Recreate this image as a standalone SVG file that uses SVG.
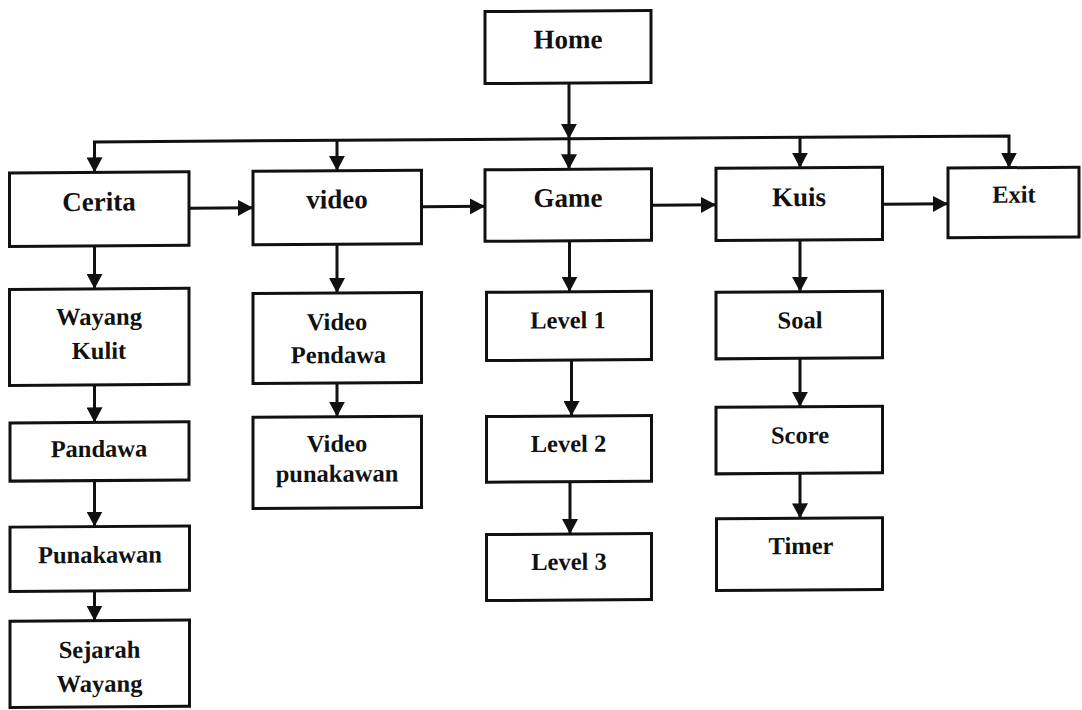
<svg xmlns="http://www.w3.org/2000/svg" width="1082" height="710" viewBox="0 0 1082 710">
  <style>
    .box { fill: #ffffff; stroke: #111111; stroke-width: 3; }
    .wire { fill: none; stroke: #111111; stroke-width: 3; }
    .lbl { font-family: "Liberation Serif", serif; font-weight: bold; fill: #111111; text-anchor: middle; }
    .big { font-size: 27px; }
    .sm { font-size: 24.5px; }
  </style>
  <defs>
    <marker id="head" markerUnits="userSpaceOnUse" markerWidth="16" markerHeight="16" refX="15" refY="8" orient="auto">
      <path d="M0,0 L15,8 L0,16 Z" fill="#111111"/>
    </marker>
  </defs>
  <rect x="0" y="0" width="1082" height="710" fill="#ffffff"/>
  <!-- slight page tilt of the printed chart -->
  <g transform="translate(0,3.49) skewY(-0.37)">
    <g id="connectors">
      <path class="wire" d="M569,83.2 V139" marker-end="url(#head)"/>
      <path class="wire" d="M569,139 H94.5 V169.5" marker-end="url(#head)"/>
      <path class="wire" d="M569,139 H1009 V170.7" marker-end="url(#head)"/>
      <path class="wire" d="M337,139 V169.5" marker-end="url(#head)"/>
      <path class="wire" d="M569,139 V169.5" marker-end="url(#head)"/>
      <path class="wire" d="M800,139 V169.4" marker-end="url(#head)"/>
      <!-- main row -->
      <path class="wire" d="M189,206 H253" marker-end="url(#head)"/>
      <path class="wire" d="M421.5,206 H485" marker-end="url(#head)"/>
      <path class="wire" d="M651.5,206 H716" marker-end="url(#head)"/>
      <path class="wire" d="M882.5,206.5 H948" marker-end="url(#head)"/>
      <!-- Cerita column -->
      <path class="wire" d="M94.5,243 V286" marker-end="url(#head)"/>
      <path class="wire" d="M94.5,382 V419.5" marker-end="url(#head)"/>
      <path class="wire" d="M94.5,477.7 V523.7" marker-end="url(#head)"/>
      <path class="wire" d="M94.5,588 V617.8" marker-end="url(#head)"/>
      <!-- video column -->
      <path class="wire" d="M337,243 V291.7" marker-end="url(#head)"/>
      <path class="wire" d="M337,381.7 V415.4" marker-end="url(#head)"/>
      <!-- Game column -->
      <path class="wire" d="M569.5,241 V292" marker-end="url(#head)"/>
      <path class="wire" d="M571.5,360.2 V416.2" marker-end="url(#head)"/>
      <path class="wire" d="M570,481.9 V534.2" marker-end="url(#head)"/>
      <!-- Kuis column -->
      <path class="wire" d="M800,241.7 V293.4" marker-end="url(#head)"/>
      <path class="wire" d="M800,360 V408.4" marker-end="url(#head)"/>
      <path class="wire" d="M800,475 V520" marker-end="url(#head)"/>
    </g>

    <g id="home">
      <rect class="box" x="485" y="11.2" width="166" height="72"/>
      <text class="lbl big" x="568" y="48.5">Home</text>
    </g>
    <g id="cerita">
      <rect class="box" x="9.5" y="169.5" width="179.5" height="73.5"/>
      <text class="lbl big" x="99" y="207.8">Cerita</text>
    </g>
    <g id="video">
      <rect class="box" x="253" y="169.5" width="168.5" height="73.5"/>
      <text class="lbl big" x="337" y="207">video</text>
    </g>
    <g id="game">
      <rect class="box" x="485" y="169.5" width="166.5" height="71.5"/>
      <text class="lbl big" x="568" y="207">Game</text>
    </g>
    <g id="kuis">
      <rect class="box" x="716" y="169.4" width="166.5" height="72.3"/>
      <text class="lbl big" x="799" y="207.7">Kuis</text>
    </g>
    <g id="exit">
      <rect class="box" x="948" y="170.7" width="131" height="69.7"/>
      <text class="lbl sm" x="1014" y="205.7">Exit</text>
    </g>

    <g id="wayang-kulit">
      <rect class="box" x="9.5" y="286" width="179.5" height="96"/>
      <text class="lbl sm" x="99" y="322">Wayang</text>
      <text class="lbl sm" x="99" y="356">Kulit</text>
    </g>
    <g id="pandawa">
      <rect class="box" x="10" y="419.5" width="179" height="58.2"/>
      <text class="lbl sm" x="99" y="454">Pandawa</text>
    </g>
    <g id="punakawan">
      <rect class="box" x="10" y="523.7" width="179.5" height="64.3"/>
      <text class="lbl sm" x="100" y="560">Punakawan</text>
    </g>
    <g id="sejarah-wayang">
      <rect class="box" x="10" y="617.8" width="179.5" height="86.2"/>
      <text class="lbl sm" x="99.5" y="655">Sejarah</text>
      <text class="lbl sm" x="99.5" y="689">Wayang</text>
    </g>

    <g id="video-pendawa">
      <rect class="box" x="253" y="291.7" width="168.5" height="90"/>
      <text class="lbl sm" x="337" y="328.7">Video</text>
      <text class="lbl sm" x="338.5" y="361.7">Pendawa</text>
    </g>
    <g id="video-punakawan">
      <rect class="box" x="253" y="415.4" width="168.5" height="91.3"/>
      <text class="lbl sm" x="337" y="450.4">Video</text>
      <text class="lbl sm" x="337" y="480.4">punakawan</text>
    </g>

    <g id="level-1">
      <rect class="box" x="486.5" y="292" width="165" height="68.2"/>
      <text class="lbl sm" x="568" y="328.5">Level 1</text>
    </g>
    <g id="level-2">
      <rect class="box" x="486.5" y="416.2" width="165" height="65.7"/>
      <text class="lbl sm" x="568.5" y="452">Level 2</text>
    </g>
    <g id="level-3">
      <rect class="box" x="486.5" y="534.2" width="165" height="66"/>
      <text class="lbl sm" x="569" y="570">Level 3</text>
    </g>

    <g id="soal">
      <rect class="box" x="716" y="293.4" width="166.5" height="66.6"/>
      <text class="lbl sm" x="800" y="330">Soal</text>
    </g>
    <g id="score">
      <rect class="box" x="716" y="408.4" width="166.5" height="66.6"/>
      <text class="lbl sm" x="800" y="445">Score</text>
    </g>
    <g id="timer">
      <rect class="box" x="716.5" y="520" width="166" height="71.7"/>
      <text class="lbl sm" x="801" y="555.7">Timer</text>
    </g>
  </g>
</svg>
